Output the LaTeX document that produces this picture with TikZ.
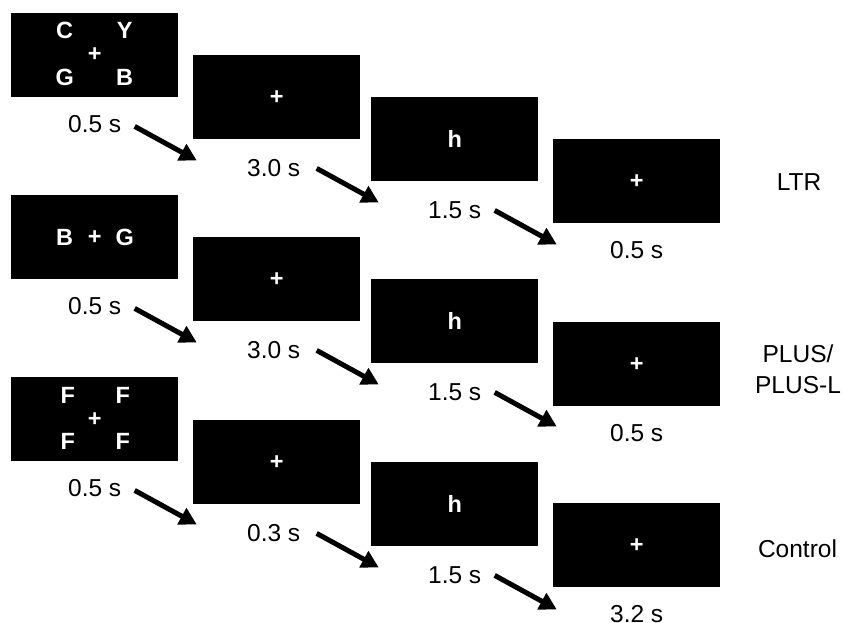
\documentclass[tikz,border=0pt]{standalone}
\usepackage{fontspec}
\setmainfont{Liberation Sans}
\usetikzlibrary{arrows.meta,calc}
\begin{document}
\begin{tikzpicture}[x=1pt,y=-1pt,
  scr/.style={fill=black,draw=none,minimum width=167pt,minimum height=84pt,inner sep=0pt,anchor=north west},
  stim/.style={text=white,font=\fontsize{23.5}{28}\selectfont\bfseries,inner sep=0pt},
  tlab/.style={font=\fontsize{24.5}{29}\selectfont,inner sep=0pt,anchor=base},
  cond/.style={font=\fontsize{24.5}{31}\selectfont,align=center,inner sep=0pt},
  arr/.style={line width=5pt,-{Triangle[length=17pt,width=18pt]}}]
\useasboundingbox (0,0) rectangle (844,623);
% screens
\node[scr] (b11) at (11,13) {};
\node[scr] (b12) at (193,55) {};
\node[scr] (b13) at (371,97) {};
\node[scr] (b14) at (553,139) {};
\node[scr] (b21) at (11,195) {};
\node[scr] (b22) at (193,237) {};
\node[scr] (b23) at (371,279) {};
\node[scr] (b24) at (553,322) {};
\node[scr] (b31) at (11,377) {};
\node[scr] (b32) at (193,420) {};
\node[scr] (b33) at (371,462) {};
\node[scr] (b34) at (553,503) {};
% row 1 stimuli
\node[stim] (s11a) at ($(b11.center)+(-30,-25)$) {C};
\node[stim] (s11b) at ($(b11.center)+(30,-25)$) {Y};
\node[stim] (s11c) at ($(b11.center)+(0,-1)$) {+};
\node[stim] (s11d) at ($(b11.center)+(-30,22)$) {G};
\node[stim] (s11e) at ($(b11.center)+(30,22)$) {B};
\node[stim] (s12) at (b12.center) {+};
\node[stim] (s13) at (b13.center) {h};
\node[stim] (s14) at (b14.center) {+};
% row 2 stimuli
\node[stim] (s21a) at ($(b21.center)+(-30,0)$) {B};
\node[stim] (s21b) at (b21.center) {+};
\node[stim] (s21c) at ($(b21.center)+(30,0)$) {G};
\node[stim] (s22) at (b22.center) {+};
\node[stim] (s23) at (b23.center) {h};
\node[stim] (s24) at (b24.center) {+};
% row 3 stimuli
\node[stim] (s31a) at ($(b31.center)+(-27,-24)$) {F};
\node[stim] (s31b) at ($(b31.center)+(28,-24)$) {F};
\node[stim] (s31c) at (b31.center) {+};
\node[stim] (s31d) at ($(b31.center)+(-27,22)$) {F};
\node[stim] (s31e) at ($(b31.center)+(28,22)$) {F};
\node[stim] (s32) at (b32.center) {+};
\node[stim] (s33) at (b33.center) {h};
\node[stim] (s34) at (b34.center) {+};
% time labels
\node[tlab] (t11) at ($(b11.south)+(0,35)$) {0.5 s};
\node[tlab] (t12) at ($(b12.south)+(-3,37)$) {3.0 s};
\node[tlab] (t13) at ($(b13.south)+(0,37)$) {1.5 s};
\node[tlab] (t14) at ($(b14.south)+(0,35)$) {0.5 s};
\node[tlab] (t21) at ($(b21.south)+(0,35)$) {0.5 s};
\node[tlab] (t22) at ($(b22.south)+(-3,37)$) {3.0 s};
\node[tlab] (t23) at ($(b23.south)+(0,37)$) {1.5 s};
\node[tlab] (t24) at ($(b24.south)+(0,35)$) {0.5 s};
\node[tlab] (t31) at ($(b31.south)+(0,35)$) {0.5 s};
\node[tlab] (t32) at ($(b32.south)+(-3,37)$) {0.3 s};
\node[tlab] (t33) at ($(b33.south)+(0,37)$) {1.5 s};
\node[tlab] (t34) at ($(b34.south)+(0,35)$) {3.2 s};
% arrows
\foreach \r in {1,2,3}{
  \foreach \c in {1,2,3}{
    \coordinate (a\r\c s) at ($(b\r\c.south)+(40,29)$);
    \coordinate (a\r\c e) at ($(b\r\c.south)+(102,63)$);
    \draw[arr] (a\r\c s) -- (a\r\c e);
  }
}
% condition labels
\node[cond] (c1) at (799,182) {LTR};
\node[cond] (c2) at (798,369.5) {PLUS/\\PLUS-L};
\node[cond] (c3) at (797.5,549) {Control};
\end{tikzpicture}
\end{document}
